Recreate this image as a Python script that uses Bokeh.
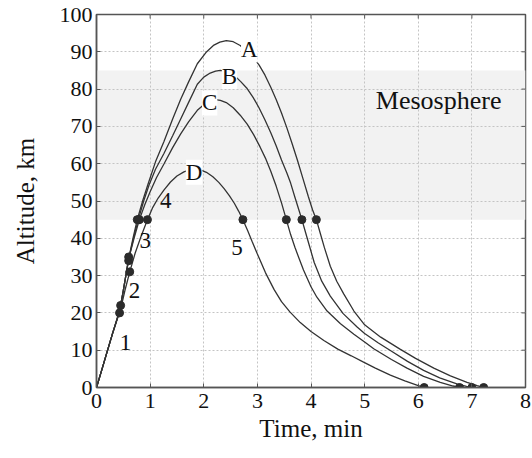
import math
from bokeh.plotting import figure
from bokeh.models import (ColumnDataSource, LabelSet, BoxAnnotation,
                          FixedTicker, Range1d, Label)
from bokeh.embed import file_html
from bokeh.resources import INLINE

# ---------------- data ----------------
tA = [0, 0.1, 0.2, 0.3, 0.43, 0.5, 0.6, 0.68, 0.76, 0.86, 0.96, 1.1, 1.26, 1.42,
      1.57, 1.72, 1.88, 2.04, 2.19, 2.3, 2.42, 2.55, 2.68, 2.8, 2.92, 3.03, 3.14,
      3.25, 3.35, 3.45, 3.55, 3.65, 3.75, 3.85, 3.95, 4.03, 4.1, 4.17, 4.25, 4.36,
      4.48, 4.61, 4.8, 5.0, 5.3, 5.66, 5.95, 6.29, 6.6, 6.91, 7.1, 7.22]
hA = [0, 4.8, 9.7, 14.5, 20.5, 26, 34.5, 40, 45, 50, 54.5, 60.5, 66, 72,
      77.3, 82, 86.8, 89.8, 91.8, 92.6, 93, 92.7, 91.7, 90.2, 88.5, 86.5, 83.8,
      80.5, 77.2, 73.6, 69.6, 65.3, 60.8, 56, 51.2, 47.6, 45, 41.5, 37.5, 32.5,
      28.5, 25.1, 20.5, 16.8, 13.5, 10.3, 7.8, 5.2, 3.1, 1.4, 0.5, 0]

tB = [0, 0.1, 0.2, 0.3, 0.43, 0.5, 0.6, 0.69, 0.78, 0.88, 0.98, 1.1, 1.26, 1.42,
      1.57, 1.72, 1.88, 2.0, 2.12, 2.22, 2.31, 2.45, 2.58, 2.69, 2.8, 2.92, 3.03,
      3.14, 3.25, 3.35, 3.45, 3.55, 3.62, 3.7, 3.77, 3.83, 3.9, 3.97, 4.06, 4.2,
      4.36, 4.6, 4.86, 5.0, 5.25, 5.48, 5.8, 6.1, 6.4, 6.72, 6.9, 7.0]
hB = [0, 4.8, 9.7, 14.5, 20.5, 26, 34.5, 40, 45, 50, 54.3, 58.5, 62.8, 67.5,
      72, 76.5, 81.3, 83.2, 84.3, 84.8, 85, 84.6, 83.5, 82, 80.3, 77.8, 75,
      71.8, 68.3, 64.8, 61, 57.5, 54.8, 51, 47.8, 45, 41.5, 38, 33.5, 28.5,
      24.5, 19.8, 16.2, 14.5, 12, 9.9, 7, 4.6, 2.6, 1.0, 0.3, 0]

tC = [0, 0.1, 0.2, 0.3, 0.43, 0.5, 0.6, 0.7, 0.8, 0.9, 1.0, 1.12, 1.26, 1.42,
      1.57, 1.72, 1.88, 2.0, 2.11, 2.22, 2.31, 2.42, 2.55, 2.68, 2.81, 2.93, 3.05,
      3.15, 3.25, 3.35, 3.45, 3.54, 3.62, 3.7, 3.78, 3.86, 4.0, 4.11, 4.3, 4.55,
      4.8, 5.0, 5.17, 5.5, 5.79, 6.1, 6.41, 6.65, 6.77]
hC = [0, 4.8, 9.7, 14.5, 20.5, 26, 34.5, 40, 45, 49, 52.5, 56.3, 60, 64.3,
      68, 71.3, 74.3, 75.8, 76.8, 77.2, 77, 76.4, 75, 73, 70.6, 67.8, 64.5,
      61.5, 58, 54, 49.5, 45, 41, 37.6, 34.5, 31.5, 27, 24.2, 20.5, 17.1,
      14.3, 12.2, 10.4, 7.5, 5.2, 3.0, 1.4, 0.4, 0]

tD = [0, 0.1, 0.2, 0.3, 0.45, 0.53, 0.62, 0.72, 0.83, 0.95, 1.05, 1.15, 1.26,
      1.38, 1.5, 1.63, 1.75, 1.85, 1.95, 2.05, 2.17, 2.28, 2.38, 2.48, 2.57, 2.65,
      2.73, 2.82, 2.9, 3.0, 3.15, 3.31, 3.45, 3.61, 3.8, 4.0, 4.24, 4.5, 4.75,
      4.98, 5.2, 5.48, 5.75, 6.0, 6.11]
hD = [0, 4.8, 9.7, 14.5, 21, 26, 31, 36, 40.5, 45, 48.3, 50.8, 53,
      55.1, 56.7, 57.8, 58.4, 58.5, 58.3, 57.7, 56.5, 55, 53.3, 51.4, 49.4, 47.3,
      45, 42, 39.2, 35.8, 30.8, 26.3, 23, 20.2, 17.4, 15, 12.6, 10.3, 8.5,
      6.8, 5.2, 3.3, 1.8, 0.5, 0]

# event markers (stage points)
mark_t = [0.43, 0.45, 0.62, 0.6, 0.6, 0.76, 0.78, 0.8, 0.95,
          2.73, 3.54, 3.83, 4.10, 6.11, 6.77, 7.0, 7.22]
mark_h = [20, 22, 31, 34, 35, 45, 45, 45, 45,
          45, 45, 45, 45, 0, 0, 0, 0]

# mesosphere band
meso_bottom, meso_top = 45, 85
meso_text = "Mesosphere"
meso_tx, meso_ty = 6.38, 77

# trajectory letters
let_text = ["A", "B", "C", "D"]
let_x = [2.85, 2.48, 2.11, 1.82]
let_y = [90.5, 83.4, 76.3, 57.7]

# event numbers
num_text = ["1", "2", "3", "4", "5"]
num_x = [0.54, 0.71, 0.91, 1.29, 2.62]
num_y = [12.1, 26, 39.4, 50.1, 37.6]

x_min, x_max = 0, 8
y_min, y_max = 0, 100
x_ticks = [0, 1, 2, 3, 4, 5, 6, 7, 8]
y_ticks = [0, 10, 20, 30, 40, 50, 60, 70, 80, 90, 100]

FONT = "Liberation Serif"
INK = "#333333"
FRAME = "#555555"

p = figure(width=532, height=458, x_range=Range1d(x_min, x_max),
           y_range=Range1d(y_min, y_max),
           output_backend="svg", toolbar_location=None,
           min_border_left=96, min_border_right=7, min_border_top=14,
           min_border_bottom=71)
p.background_fill_color = "white"
p.border_fill_color = "white"
p.outline_line_color = FRAME
p.outline_line_width = 1.5

band = BoxAnnotation(bottom=meso_bottom, top=meso_top, fill_color="#f2f2f2",
                     fill_alpha=1, line_color=None, level="image")
p.add_layout(band)

for g in (p.xgrid, p.ygrid):
    g.grid_line_color = "#c4c4c4"
    g.grid_line_dash = "2 2"
    g.grid_line_width = 1
p.xgrid.ticker = FixedTicker(ticks=x_ticks)
p.ygrid.ticker = FixedTicker(ticks=y_ticks)

def style_axis(ax, ticks):
    ax.ticker = FixedTicker(ticks=ticks)
    ax.axis_line_color = FRAME
    ax.axis_line_width = 1.5
    ax.major_tick_in = 4
    ax.major_tick_out = 0
    ax.major_tick_line_color = FRAME
    ax.minor_tick_line_color = None
    ax.major_label_text_font = FONT
    ax.major_label_text_color = "#111111"
    ax.major_label_text_font_size = "22px"
    ax.axis_label_text_font = FONT
    ax.axis_label_text_font_style = "normal"
    ax.axis_label_text_color = "#111111"
    ax.axis_label_text_font_size = "25px"

xa = p.xaxis[0]
style_axis(xa, x_ticks)
xa.axis_label = "Time, min"
xa.major_label_standoff = 6
xa.axis_label_standoff = 4

ya = p.yaxis[0]
style_axis(ya, y_ticks)
ya.axis_label = "Altitude, km"
ya.major_label_standoff = 4
ya.axis_label_standoff = 18

# inward ticks on the top and right edges of the frame (half of each dash is clipped)
p.scatter(x_ticks, [y_max] * len(x_ticks), marker="dash", size=8,
          angle=math.pi / 2, line_color=FRAME, line_width=1)
p.scatter([x_max] * len(y_ticks), y_ticks, marker="dash", size=8,
          line_color=FRAME, line_width=1)

for t, h in ((tA, hA), (tB, hB), (tC, hC), (tD, hD)):
    p.line(t, h, line_color=INK, line_width=1.3)

p.scatter(mark_t, mark_h, size=8, fill_color="#2b2b2b", line_color="#2b2b2b")

p.add_layout(Label(x=meso_tx, y=meso_ty, text=meso_text, text_font=FONT,
                   text_font_size="26px", text_align="center",
                   text_baseline="middle", text_color="#111111"))

let_src = ColumnDataSource(dict(x=let_x, y=let_y, text=let_text))
p.add_layout(LabelSet(x="x", y="y", text="text", source=let_src,
                      text_font=FONT, text_font_size="23px",
                      text_align="center", text_baseline="middle",
                      text_color="#111111", background_fill_color="white",
                      background_fill_alpha=1))

num_src = ColumnDataSource(dict(x=num_x, y=num_y, text=num_text))
p.add_layout(LabelSet(x="x", y="y", text="text", source=num_src,
                      text_font=FONT, text_font_size="23px",
                      text_align="center", text_baseline="middle",
                      text_color="#111111"))

open("out.html", "w").write(file_html(p, INLINE))
